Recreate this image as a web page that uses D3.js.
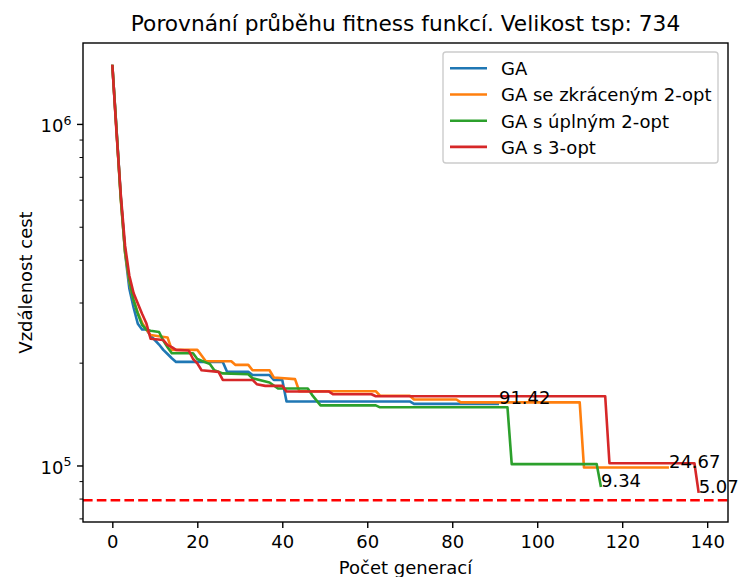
<!DOCTYPE html>
<html>
<head>
<meta charset="utf-8">
<script src="https://cdn.jsdelivr.net/npm/d3@7"></script>
<style>
body { margin: 0; background: #fff; }
svg text { font-family: "DejaVu Sans", sans-serif; fill: #000; }
</style>
</head>
<body>
<svg id="chart" width="738" height="577"></svg>
<script>
// values: [generation, route length]
var gaPoints = [[0,1490000],[1,960000],[2,610000],[3,420000],[4,330000],[5,290000],[6,260000],[7,250000],[8,250000],[9,240000],[10,233000],[11,226000],[12,218000],[13,212000],[14,206000],[15,201000],[26,201000],[27,188000],[32,188000],[33,184000],[37,184000],[38,178000],[40,178000],[41,154000],[70,154000],[71,151440],[91,151440]];
var shortTwoOptPoints = [[0,1490000],[1,950000],[2,600000],[3,420000],[4,345000],[5,305000],[6,280000],[7,262000],[8,250000],[9,241000],[13,237000],[14,218000],[20,218000],[21,210000],[22,202000],[28,202000],[29,197000],[32,197000],[33,190000],[37,190000],[38,181000],[43,179000],[44,165000],[62,165000],[63,160000],[70,160000],[71,156000],[81,156000],[82,153000],[110,153000],[111,98631],[131,98631]];
var fullTwoOptPoints = [[0,1490000],[1,955000],[2,605000],[3,425000],[4,348000],[5,305000],[6,278000],[7,258000],[8,250000],[9,248000],[11,246000],[12,232000],[13,222000],[14,213000],[19,213000],[20,205000],[23,198000],[24,190000],[26,186000],[32,185000],[33,180000],[37,175000],[39,168000],[46,168000],[47,161000],[49,150000],[62,150000],[63,148000],[93,148000],[94,100900],[114,100900],[115,86503]];
var threeOptPoints = [[0,1490000],[1,940000],[2,620000],[3,440000],[4,360000],[5,320000],[6,298000],[7,278000],[8,261000],[9,235000],[12,233000],[13,225000],[14,222000],[15,218000],[18,217000],[19,205000],[20,199000],[21,190000],[25,188000],[26,178000],[33,178000],[34,173000],[36,171000],[40,171000],[41,164600],[51,164600],[52,161600],[61,161600],[62,159500],[116,159500],[117,101500],[137,101500],[138,83125]];

var seriesNames = ['GA', 'GA se zkráceným 2-opt', 'GA s úplným 2-opt', 'GA s 3-opt'];
var seriesColors = ['#1f77b4', '#ff7f0e', '#2ca02c', '#d62728'];
var endLabels = ['91.42', '24.67', '9.34', '5.07'];
var optimum = 79114;

var xTicks = [0, 20, 40, 60, 80, 100, 120, 140];
var yMajorTicks = [1e5, 1e6];
var yMinorTicks = [7e4, 8e4, 9e4, 2e5, 3e5, 4e5, 5e5, 6e5, 7e5, 8e5, 9e5];

var allSeries = [gaPoints, shortTwoOptPoints, fullTwoOptPoints, threeOptPoints];

var margin = {left: 83, top: 43, right: 10, bottom: 55};
var width = 645, height = 479;
var fs = '18px';

var svg = d3.select('#chart');
var g = svg.append('g')
    .attr('transform', 'translate(' + margin.left + ',' + margin.top + ')');

// matplotlib style 5% margins
var allPts = d3.merge(allSeries);
var xMax = d3.max(allPts, function(d) { return d[0]; });
var xPad = xMax * 0.05;
var x = d3.scaleLinear()
    .domain([-xPad, xMax + xPad])
    .range([0, width]);

var logMin = Math.log10(Math.min(optimum, d3.min(allPts, function(d) { return d[1]; })));
var logMax = Math.log10(d3.max(allPts, function(d) { return d[1]; }));
var logPad = (logMax - logMin) * 0.05;
var y = d3.scaleLog()
    .domain([Math.pow(10, logMin - logPad), Math.pow(10, logMax + logPad)])
    .range([height, 0]);

var line = d3.line()
    .x(function(d) { return x(d[0]); })
    .y(function(d) { return y(d[1]); });

allSeries.forEach(function(pts, i) {
    g.append('path')
        .datum(pts)
        .attr('fill', 'none')
        .attr('stroke', seriesColors[i])
        .attr('stroke-width', 2.6)
        .attr('stroke-linejoin', 'round')
        .attr('stroke-linecap', 'butt')
        .attr('d', line);
});

// optimum
g.append('line')
    .attr('x1', 0)
    .attr('x2', width)
    .attr('y1', y(optimum))
    .attr('y2', y(optimum))
    .attr('stroke', '#ff0000')
    .attr('stroke-width', 2.6)
    .attr('stroke-dasharray', '9.6,4.2');

allSeries.forEach(function(pts, i) {
    var last = pts[pts.length - 1];
    g.append('text')
        .attr('x', x(last[0]))
        .attr('y', y(last[1]))
        .attr('font-size', fs)
        .text(endLabels[i]);
});

// x axis
var xAxis = g.append('g')
    .attr('transform', 'translate(0,' + height + ')')
    .call(d3.axisBottom(x)
        .tickValues(xTicks)
        .tickSize(6)
        .tickPadding(6)
        .tickSizeOuter(0));
xAxis.select('.domain').remove();
xAxis.selectAll('line').attr('stroke', '#000').attr('stroke-width', 1.4);
xAxis.selectAll('text')
    .attr('font-size', fs)
    .attr('font-family', 'DejaVu Sans')
    .attr('dy', '0.75em');

// y axis minor
var yMinor = g.append('g')
    .call(d3.axisLeft(y)
        .tickValues(yMinorTicks)
        .tickSize(3.5)
        .tickFormat(function() { return ''; }));
yMinor.select('.domain').remove();
yMinor.selectAll('line').attr('stroke', '#000').attr('stroke-width', 1.0);

// y axis major
var yMajor = g.append('g')
    .call(d3.axisLeft(y)
        .tickValues(yMajorTicks)
        .tickSize(6)
        .tickPadding(5.5)
        .tickFormat(function() { return ''; }));
yMajor.select('.domain').remove();
yMajor.selectAll('line').attr('stroke', '#000').attr('stroke-width', 1.4);
yMajor.selectAll('text')
    .attr('font-size', fs)
    .attr('font-family', 'DejaVu Sans')
    .attr('dy', '7.8px')
    .each(function(d) {
        var t = d3.select(this);
        t.append('tspan').text('10');
        t.append('tspan')
            .attr('font-size', '12.6px')
            .attr('dy', '-7.5px')
            .text(Math.round(Math.log10(d)));
    });

// frame
g.append('rect')
    .attr('width', width)
    .attr('height', height)
    .attr('fill', 'none')
    .attr('stroke', '#000')
    .attr('stroke-width', 1.4);

// title and labels
svg.append('text')
    .attr('x', margin.left + width / 2)
    .attr('y', 31)
    .attr('text-anchor', 'middle')
    .attr('font-size', '21.7px')
    .text('Porovnání průběhu fitness funkcí. Velikost tsp: 734');

svg.append('text')
    .attr('x', margin.left + width / 2)
    .attr('y', 574)
    .attr('text-anchor', 'middle')
    .attr('font-size', fs)
    .text('Počet generací');

svg.append('text')
    .attr('transform', 'translate(32,' + (margin.top + height / 2) + ') rotate(-90)')
    .attr('text-anchor', 'middle')
    .attr('font-size', fs)
    .text('Vzdálenost cest');

// legend
var legend = svg.append('g')
    .attr('transform', 'translate(443,52)');
legend.append('rect')
    .attr('width', 275)
    .attr('height', 111)
    .attr('rx', 3)
    .attr('fill', '#fff')
    .attr('fill-opacity', 0.8)
    .attr('stroke', '#cccccc')
    .attr('stroke-width', 1.4);
seriesNames.forEach(function(name, i) {
    var ry = 16.3 + i * 26.2;
    legend.append('line')
        .attr('x1', 7)
        .attr('x2', 44)
        .attr('y1', ry)
        .attr('y2', ry)
        .attr('stroke', seriesColors[i])
        .attr('stroke-width', 2.6);
    legend.append('text')
        .attr('x', 58)
        .attr('y', ry + 6.8)
        .attr('font-size', fs)
        .text(name);
});
</script>
</body>
</html>
